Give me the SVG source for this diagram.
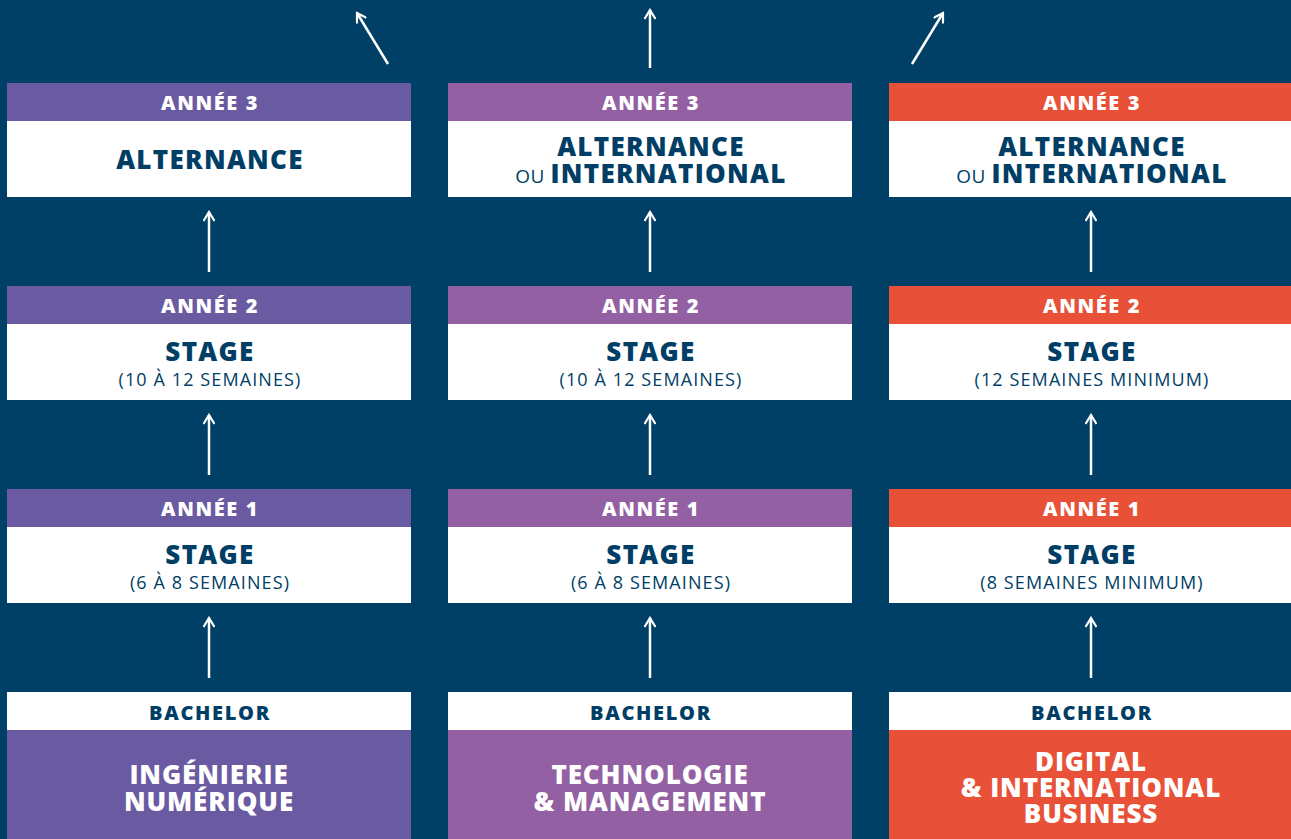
<svg xmlns="http://www.w3.org/2000/svg" width="1291" height="839" viewBox="0 0 1291 839">
<style>
.bg{fill:#003F66}
.w{fill:#FFFFFF}
.p1{fill:#6A5AA2}
.p2{fill:#9361A3}
.o{fill:#E85137}
.hd{font-family:"Open Sans","Liberation Sans",sans-serif;font-weight:800;font-size:20px;letter-spacing:1.6px;fill:#FFFFFF;text-anchor:middle}
.mt{font-family:"Open Sans","Liberation Sans",sans-serif;font-weight:800;font-size:26px;letter-spacing:1.3px;fill:#003E66;text-anchor:middle}
.st{font-family:"Open Sans","Liberation Sans",sans-serif;font-weight:400;font-size:18px;letter-spacing:1.1px;fill:#003E66;text-anchor:middle}
.ou{font-weight:400;font-size:19px;letter-spacing:0.5px}
.bt{font-family:"Open Sans","Liberation Sans",sans-serif;font-weight:800;font-size:26px;letter-spacing:0.9px;fill:#FFFFFF;text-anchor:middle}
.bh{font-family:"Open Sans","Liberation Sans",sans-serif;font-weight:800;font-size:20px;letter-spacing:1.7px;fill:#003E66;text-anchor:middle}
.ar{stroke:#FFFFFF;stroke-width:2.5;fill:none;marker-end:url(#ah)}
</style>
<defs>
<marker id="ah" viewBox="0 0 12 12" refX="10" refY="6" markerWidth="12" markerHeight="12" markerUnits="userSpaceOnUse" orient="auto">
<path d="M1,0.5 L10,6 L1,11.5" fill="none" stroke="#FFFFFF" stroke-width="2.2"/>
</marker>
</defs>
<rect class="bg" x="0" y="0" width="1291" height="839"/>

<g id="connectors">
<line class="ar" x1="388" y1="64" x2="357" y2="13"/>
<line class="ar" x1="650" y1="68" x2="650" y2="10"/>
<line class="ar" x1="912" y1="64" x2="943" y2="13"/>
<line class="ar" x1="209" y1="272" x2="209" y2="212"/>
<line class="ar" x1="650" y1="272" x2="650" y2="212"/>
<line class="ar" x1="1091" y1="272" x2="1091" y2="212"/>
<line class="ar" x1="209" y1="475" x2="209" y2="415"/>
<line class="ar" x1="650" y1="475" x2="650" y2="415"/>
<line class="ar" x1="1091" y1="475" x2="1091" y2="415"/>
<line class="ar" x1="209" y1="678" x2="209" y2="618"/>
<line class="ar" x1="650" y1="678" x2="650" y2="618"/>
<line class="ar" x1="1091" y1="678" x2="1091" y2="618"/>
</g>

<!-- Column 1 -->
<g id="c1-annee3">
<rect class="p1" x="7" y="83" width="404" height="38"/>
<rect class="w" x="7" y="121" width="404" height="76"/>
<text class="hd" x="210" y="110">ANNÉE 3</text>
<text class="mt" x="210" y="169">ALTERNANCE</text>
</g>
<g id="c1-annee2">
<rect class="p1" x="7" y="286" width="404" height="38"/>
<rect class="w" x="7" y="324" width="404" height="76"/>
<text class="hd" x="210" y="313">ANNÉE 2</text>
<text class="mt" x="210" y="361">STAGE</text>
<text class="st" x="210" y="386">(10 À 12 SEMAINES)</text>
</g>
<g id="c1-annee1">
<rect class="p1" x="7" y="489" width="404" height="38"/>
<rect class="w" x="7" y="527" width="404" height="76"/>
<text class="hd" x="210" y="516">ANNÉE 1</text>
<text class="mt" x="210" y="564">STAGE</text>
<text class="st" x="210" y="589">(6 À 8 SEMAINES)</text>
</g>
<g id="c1-bachelor">
<rect class="w" x="7" y="692" width="404" height="38"/>
<rect class="p1" x="7" y="730" width="404" height="109"/>
<text class="bh" x="210" y="720">BACHELOR</text>
<text class="bt" x="209" y="784">INGÉNIERIE</text>
<text class="bt" x="209" y="811">NUMÉRIQUE</text>
</g>

<!-- Column 2 -->
<g id="c2-annee3">
<rect class="p2" x="448" y="83" width="404" height="38"/>
<rect class="w" x="448" y="121" width="404" height="76"/>
<text class="hd" x="651" y="110">ANNÉE 3</text>
<text class="mt" x="651" y="156">ALTERNANCE</text>
<text class="mt" x="651" y="183"><tspan class="ou">OU </tspan>INTERNATIONAL</text>
</g>
<g id="c2-annee2">
<rect class="p2" x="448" y="286" width="404" height="38"/>
<rect class="w" x="448" y="324" width="404" height="76"/>
<text class="hd" x="651" y="313">ANNÉE 2</text>
<text class="mt" x="651" y="361">STAGE</text>
<text class="st" x="651" y="386">(10 À 12 SEMAINES)</text>
</g>
<g id="c2-annee1">
<rect class="p2" x="448" y="489" width="404" height="38"/>
<rect class="w" x="448" y="527" width="404" height="76"/>
<text class="hd" x="651" y="516">ANNÉE 1</text>
<text class="mt" x="651" y="564">STAGE</text>
<text class="st" x="651" y="589">(6 À 8 SEMAINES)</text>
</g>
<g id="c2-bachelor">
<rect class="w" x="448" y="692" width="404" height="38"/>
<rect class="p2" x="448" y="730" width="404" height="109"/>
<text class="bh" x="651" y="720">BACHELOR</text>
<text class="bt" x="650" y="784">TECHNOLOGIE</text>
<text class="bt" x="650" y="811">&amp; MANAGEMENT</text>
</g>

<!-- Column 3 -->
<g id="c3-annee3">
<rect class="o" x="889" y="83" width="402" height="38"/>
<rect class="w" x="889" y="121" width="402" height="76"/>
<text class="hd" x="1092" y="110">ANNÉE 3</text>
<text class="mt" x="1092" y="156">ALTERNANCE</text>
<text class="mt" x="1092" y="183"><tspan class="ou">OU </tspan>INTERNATIONAL</text>
</g>
<g id="c3-annee2">
<rect class="o" x="889" y="286" width="402" height="38"/>
<rect class="w" x="889" y="324" width="402" height="76"/>
<text class="hd" x="1092" y="313">ANNÉE 2</text>
<text class="mt" x="1092" y="361">STAGE</text>
<text class="st" x="1092" y="386">(12 SEMAINES MINIMUM)</text>
</g>
<g id="c3-annee1">
<rect class="o" x="889" y="489" width="402" height="38"/>
<rect class="w" x="889" y="527" width="402" height="76"/>
<text class="hd" x="1092" y="516">ANNÉE 1</text>
<text class="mt" x="1092" y="564">STAGE</text>
<text class="st" x="1092" y="589">(8 SEMAINES MINIMUM)</text>
</g>
<g id="c3-bachelor">
<rect class="w" x="889" y="692" width="402" height="38"/>
<rect class="o" x="889" y="730" width="402" height="109"/>
<text class="bh" x="1092" y="720">BACHELOR</text>
<text class="bt" x="1091" y="771">DIGITAL</text>
<text class="bt" x="1091" y="797">&amp; INTERNATIONAL</text>
<text class="bt" x="1091" y="823">BUSINESS</text>
</g>
</svg>
